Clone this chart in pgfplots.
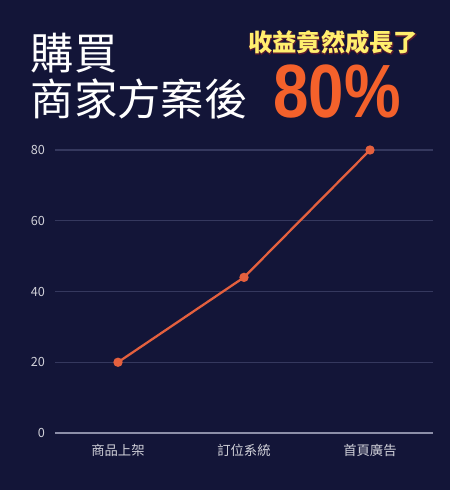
\documentclass[border=0pt]{standalone}
\usepackage{fontspec}
\usepackage{graphicx}
\usepackage{pgfplots}
\pgfplotsset{compat=1.18}
\setmainfont{Noto Sans CJK TC}
\newfontfamily\numfont{Liberation Sans}
\newfontfamily\outfont{Noto Sans CJK TC}[BoldFeatures={FakeBold=3.5}]

\definecolor{bg}{HTML}{131538}
\definecolor{gridc}{HTML}{35385E}
\definecolor{basec}{HTML}{8C8EA8}
\definecolor{tickc}{HTML}{D0D0D8}
\definecolor{linec}{HTML}{E4603E}
\definecolor{yel}{HTML}{FFEF6E}
\definecolor{outl}{HTML}{5A1A2E}
\definecolor{org}{HTML}{F4612B}

\begin{document}
\begin{tikzpicture}
% background, 450x490 px at 0.75pt per px
\fill[bg] (0,0) rectangle (337.5pt,367.5pt);

% title
\node[anchor=base west, inner sep=0, text=white, font=\fontsize{32.5}{34}\selectfont] at (23pt,315pt) {購買};
\node[anchor=base west, inner sep=0, text=white, font=\fontsize{32.5}{34}\selectfont] at (23pt,280.5pt) {商家方案後};

% yellow line with a thin dark outline behind it
\node[anchor=base west, inner sep=0, text=outl, font=\fontsize{18.2}{20}\selectfont\outfont\bfseries] at (186pt,328.5pt) {收益竟然成長了};
\node[anchor=base west, inner sep=0, text=yel, font=\fontsize{18.2}{20}\selectfont\bfseries] at (186pt,328.5pt) {收益竟然成長了};

\node[anchor=base west, inner sep=0, text=org] at (204.75pt,279pt)
  {\scalebox{0.86}[1.02]{\numfont\bfseries\fontsize{55.5}{58}\selectfont 80\%}};

\begin{axis}[
    at={(41.25pt,42.75pt)}, anchor=south west,
    scale only axis, width=283.5pt, height=212.25pt,
    xmin=-0.5, xmax=2.5, ymin=0, ymax=80,
    xtick={0,1,2},
    xticklabels={商品上架, 訂位系統, 首頁廣告},
    ytick={0,20,40,60,80},
    axis line style={draw=none},
    tick style={draw=none},
    ymajorgrids,
    grid style={gridc, line width=0.8pt},
    extra y ticks={0},
    extra y tick labels={},
    extra y tick style={grid style={basec, line width=0.8pt}},
    /pgf/number format/assume math mode=true,
    yticklabel style={text=tickc, font=\fontsize{9.5}{11}\selectfont, xshift=-4pt},
    xticklabel style={text=tickc, font=\fontsize{10}{12}\selectfont, yshift=-5pt},
    clip=false,
]
\addplot[linec, line width=1.7pt, mark=*, mark size=2.6pt, mark options={fill=linec, draw=linec}]
  coordinates {(0,20) (1,44) (2,80)};
\end{axis}
\end{tikzpicture}
\end{document}
